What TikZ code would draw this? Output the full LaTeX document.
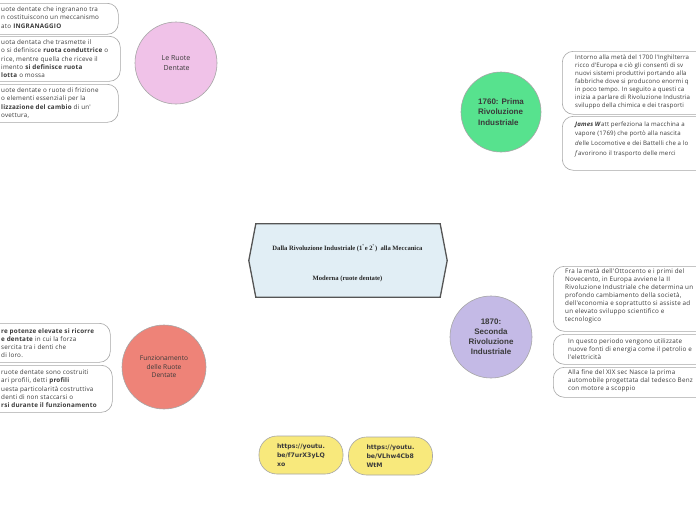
\documentclass[tikz,border=0pt]{standalone}
\usepackage{fontspec}
\setmainfont{Open Sans}
\newfontfamily\bodyf[LetterSpace=3.5]{Open Sans}
\newfontfamily\bodyfa[LetterSpace=2.5]{Open Sans}
\newfontfamily\arialf{Liberation Sans}
\newfontfamily\timesf{Liberation Serif}
\newfontfamily\dejaf{DejaVu Sans}
\definecolor{boxgray}{HTML}{A6A6A6}
\definecolor{conng}{HTML}{8F8F8F}
\definecolor{darkl}{HTML}{4D4D4D}
\definecolor{txtc}{HTML}{3A3A3A}
\definecolor{hexfill}{HTML}{E1EEF5}
\definecolor{hexline}{HTML}{555555}
\definecolor{pinkc}{HTML}{F0C2E8}
\definecolor{greenc}{HTML}{57E28E}
\definecolor{lavc}{HTML}{C4BAE6}
\definecolor{salc}{HTML}{EE8378}
\definecolor{yelc}{HTML}{F8E97C}
\pgfdeclarelayer{bg}
\pgfsetlayers{bg,main}
\begin{document}
\begin{tikzpicture}[x=1pt,y=-1pt,
  box/.style={draw=boxgray, fill=white, rounded corners=11pt, line width=0.6pt, inner sep=0pt, anchor=north west},
  txt/.style={inner sep=0pt, anchor=north west, align=left, text=txtc, font=\bodyf\fontsize{6.3}{8.2}\selectfont},
  rtxt/.style={txt, font=\bodyf\fontsize{6.3}{8}\selectfont},
  atxt/.style={txt, font=\bodyfa\fontsize{6.1}{8}\selectfont},
  bubble/.style={circle, draw=boxgray, line width=0.6pt, inner sep=0pt, minimum size=#1, text=txtc},
  pill/.style={draw=boxgray, fill=yelc, rounded corners=18pt, line width=0.6pt, inner sep=0pt,
    minimum width=84pt, minimum height=38pt, align=left, text=txtc, font=\dejaf\bfseries\fontsize{6.2}{9}\selectfont},
  conn/.style={draw=conng, line width=0.7pt},
  mainconn/.style={draw=darkl, line width=0.8pt}
]
\useasboundingbox (0,0) rectangle (696,520);
\fill[white] (0,0) rectangle (696,520);
\clip (0,0) rectangle (696,520);

% central hexagon
\node[minimum width=184pt, minimum height=73pt, inner sep=0pt] (hex) at (348,260.5) {};
\draw[draw=hexline, fill=hexfill, line width=1.3pt]
  (hex.north west) -- (hex.north east) -- ([xshift=7pt]hex.east) -- (hex.south east)
  -- (hex.south west) -- ([xshift=-7pt]hex.west) -- cycle;
\node[inner sep=0pt, align=center, text=black!85, font=\timesf\bfseries\fontsize{6.6}{30}\selectfont] (hextxt) at (347.5,263)
  {Dalla Rivoluzione Industriale (1\textsuperscript{°}e 2\textsuperscript{°})\ \ alla Meccanica\\Moderna (ruote dentate)};
\coordinate (topend) at (347.5,-5);

% circles
\node[bubble=82pt, fill=pinkc, align=center, font=\fontsize{7}{10}\selectfont] (c1) at (176,63) {Le Ruote\\ \,Dentate};
\node[bubble=80pt, fill=greenc, align=left, font=\arialf\bfseries\fontsize{8}{10.2}\selectfont] (c2) at (501,112) {1760: Prima\\Rivoluzione\\Industriale};
\node[bubble=82pt, fill=lavc, align=center, font=\arialf\bfseries\fontsize{8}{10}\selectfont] (c3) at (491,337) {1870:\\Seconda\\Rivoluzione\\Industriale};
\node[bubble=84pt, fill=salc, align=center, font=\fontsize{6.6}{8.6}\selectfont] (c4) at (164,367) {Funzionamento\\delle Ruote\\Dentate};

% top-left boxes
\node[box, minimum width=178pt, minimum height=31pt] (l1) at (-60,3) {};
\node[box, minimum width=180pt, minimum height=45pt] (l2) at (-60,36) {};
\node[box, minimum width=178pt, minimum height=38pt] (l3) at (-60,84) {};
\node[txt] (l1t) at (1,6.7) {uote dentate che ingranano tra\\n costituiscono un meccanismo\\ato \textbf{INGRANAGGIO}};
\node[txt] (l2t) at (1,39.7) {uota dentata che trasmette il\\o si definisce \textbf{ruota conduttrice} o\\rice, mentre quella che riceve il\\imento \textbf{si definisce ruota}\\\textbf{lotta} o mossa};
\node[txt] (l3t) at (1,87.7) {uote dentate o ruote di frizione\\o elementi essenziali per la\\\textbf{lizzazione del cambio} di un'\\ovettura,};
\coordinate (j1) at (126,61);

% bottom-left boxes
\node[box, minimum width=170pt, minimum height=39pt] (f1) at (-60,323) {};
\node[box, minimum width=172pt, minimum height=47pt] (f2) at (-60,365) {};
\node[txt] (f1t) at (1,328.2) {\textbf{re potenze elevate si ricorre}\\\textbf{e dentate} in cui la forza\\sercita tra i denti che\\di loro.};
\node[txt] (f2t) at (1,369.7) {ruote dentate sono costruiti\\ari profili, detti \textbf{profili}\\uesta particolarità costruttiva\\denti di non staccarsi o\\\textbf{rsi durante il funzionamento}};
\coordinate (j4) at (114,366);

% right-top boxes
\node[box, minimum width=200pt, minimum height=63pt] (ra) at (562,51) {};
\node[box, minimum width=200pt, minimum height=54pt] (rb) at (562,116) {};
\node[atxt] (rat) at (575,54.7) {Intorno alla metà del 1700 l'Inghilterra\\ricco d'Europa e ciò gli consentì di sv\\nuovi sistemi produttivi portando alla\\fabbriche dove si producono enormi q\\in poco tempo. In seguito a questi ca\\inizia a parlare di Rivoluzione Industria\\sviluppo della chimica e dei trasporti};
\node[atxt, font=\bodyfa\fontsize{6.1}{9.8}\selectfont] (rbt) at (575,121.2) {\textbf{\textit{James W}}att perfeziona la macchina a\\vapore (1769) che portò alla nascita\\\textit{d}elle Locomotive e dei Battelli che a lo\\\textit{f}avorirono il trasporto delle merci};
\coordinate (j2) at (552,112);

% right-middle boxes
\node[box, minimum width=200pt, minimum height=65pt] (rc) at (553,266) {};
\node[box, minimum width=200pt, minimum height=30pt] (rd) at (553,334) {};
\node[box, minimum width=200pt, minimum height=30pt] (re) at (553,367) {};
\node[rtxt] (rct) at (565,268.7) {Fra la metà dell'Ottocento e i primi del\\Novecento, in Europa avviene la II\\Rivoluzione Industriale che determina un\\profondo cambiamento della società,\\dell'economia e soprattutto si assiste ad\\un elevato sviluppo scientifico e\\tecnologico};
\node[rtxt] (rdt) at (568,338.7) {In questo periodo vengono utilizzate\\nuove fonti di energia come il petrolio e\\l'elettricità};
\node[rtxt] (ret) at (568,369.7) {Alla fine del XIX sec Nasce la prima\\automobile progettata dal tedesco Benz\\con motore a scoppio};
\coordinate (j3) at (545,339);

% pills
\node[pill] (p1) at (301,455) {https://youtu.\\be/f7urX3yLQ\\xo};
\node[pill] (p2) at (390.5,456) {https://youtu.\\be/VLhw4Cb8\\WtM};

% connectors
\begin{pgfonlayer}{bg}
\draw[mainconn] (topend) -- (hex.north);
\draw[mainconn] ([xshift=-12pt]hex.north) .. controls (325,180) and (262,63) .. (c1.east);
\draw[mainconn] ([xshift=18pt]hex.north) .. controls (378,180) and (415,112) .. (c2.west);
\draw[mainconn] ([xshift=-30pt]hex.south) .. controls (300,330) and (245,363) .. (c4.east);
\draw[mainconn] ([xshift=30pt]hex.south) .. controls (392,325) and (420,339) .. (c3.west);
\draw[conn] ([xshift=-1.5pt]hex.south) .. controls (346.5,420) and (343,440) .. (p1.east);
\draw[conn] ([xshift=0.5pt]hex.south) .. controls (348.5,420) and (349,440) .. (p2.west);

\draw[conn] (c1.west) -- (j1);
\draw[conn] (j1) to[out=180,in=0] (l1.east);
\draw[conn] (j1) to[out=180,in=0] (l2.east);
\draw[conn] (j1) to[out=180,in=0] (l3.east);

\draw[conn] (c4.west) -- (j4);
\draw[conn] (j4) to[out=180,in=0] (f1.east);
\draw[conn] (j4) to[out=180,in=0] (f2.east);

\draw[conn] (c2.east) -- (j2);
\draw[conn] (j2) to[out=0,in=180] (ra.west);
\draw[conn] (j2) to[out=0,in=180] (rb.west);

\draw[conn] (c3.east) -- (j3);
\draw[conn] (j3) to[out=0,in=180] (rc.west);
\draw[conn] (j3) to[out=0,in=180] (rd.west);
\draw[conn] (j3) to[out=0,in=180] (re.west);
\end{pgfonlayer}
\end{tikzpicture}
\end{document}
